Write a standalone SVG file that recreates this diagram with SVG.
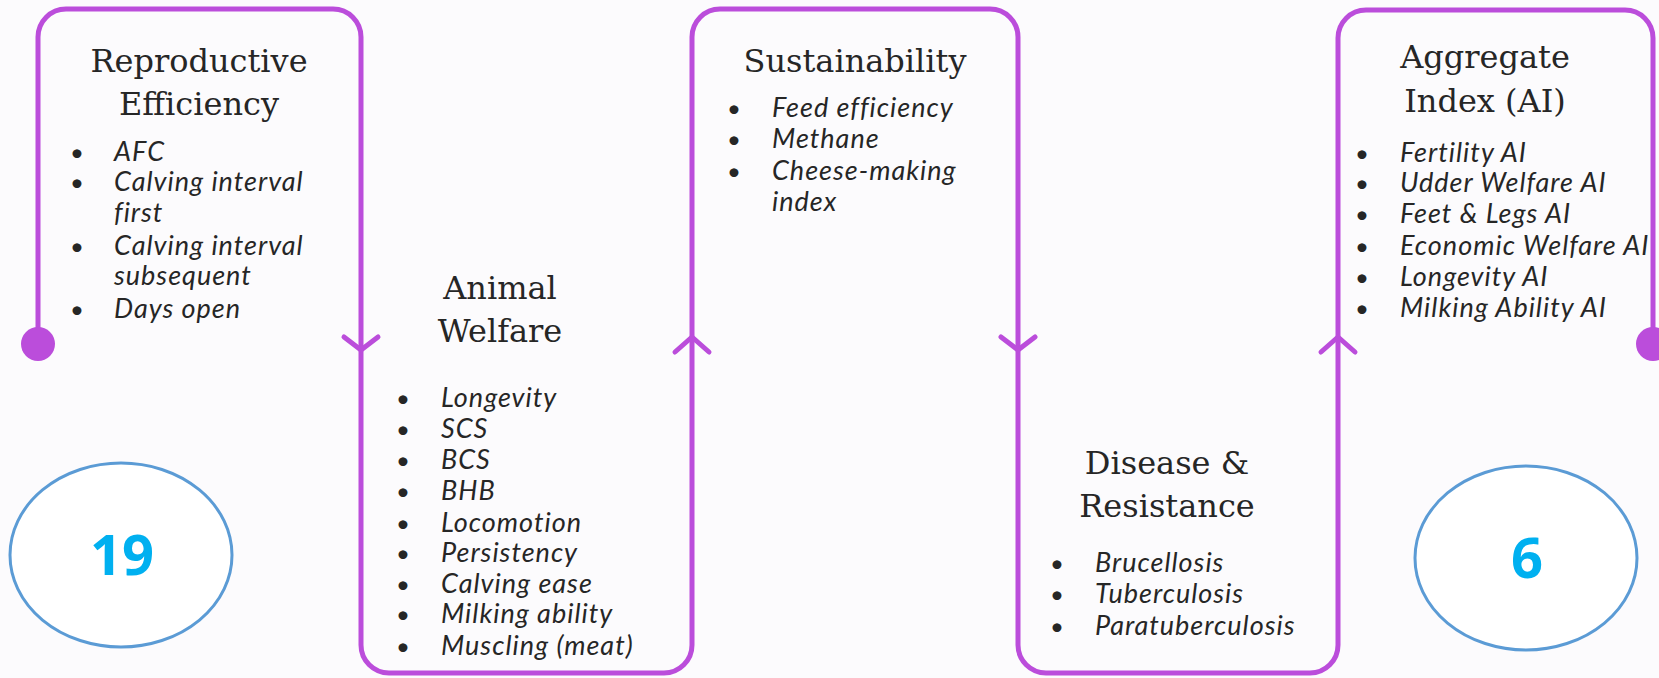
<svg xmlns="http://www.w3.org/2000/svg" width="1659" height="678" viewBox="0 0 1659 678">
  <style>
    .title { font-family: "DejaVu Serif", "Liberation Serif", serif; font-size: 32px; fill: #262626; text-anchor: middle; }
    .item { font-family: Lato, "Noto Sans", sans-serif; font-style: italic; font-size: 27px; letter-spacing: 1px; fill: #262626; }
    .dot { font-family: Lato, "Noto Sans", sans-serif; font-size: 24px; fill: #262626; text-anchor: middle; }
    .flow { fill: none; stroke: #BB4DDB; stroke-width: 5; stroke-linecap: round; stroke-linejoin: round; }
    .count { fill: #FFFFFF; stroke: #5B9BD5; stroke-width: 3; }
    .num { font-family: "Open Sans", "Noto Sans", sans-serif; font-weight: 700; font-size: 56px; fill: #00B0F0; text-anchor: middle; }
  </style>

  <rect width="1659" height="678" fill="#FCFBFD"/>

  <!-- snake line linking the categories, with direction chevrons -->
  <g id="connectors">
    <path class="flow" d="M38,344 V37 A28,28 0 0 1 66,9 H333 A28,28 0 0 1 361,37 V645 A28,28 0 0 0 389,673 H664 A28,28 0 0 0 692,645 V37 A28,28 0 0 1 720,9 H990 A28,28 0 0 1 1018,37 V645 A28,28 0 0 0 1046,673 H1310 A28,28 0 0 0 1338,645 V38 A28,28 0 0 1 1366,10 H1625 A28,28 0 0 1 1653,38 V344"/>
    <circle cx="38" cy="344" r="17" fill="#BB4DDB"/>
    <circle cx="1653" cy="344" r="17" fill="#BB4DDB"/>
    <path class="flow" d="M344,337 L361,350 L378,337"/>
    <path class="flow" d="M675,352 L692,337 L709,352"/>
    <path class="flow" d="M1001,337 L1018,350 L1035,337"/>
    <path class="flow" d="M1321,352 L1338,337 L1355,352"/>
  </g>

  <g id="reproductive-efficiency">
    <text class="title" x="199" y="72">Reproductive</text>
    <text class="title" x="199" y="115">Efficiency</text>
    <text class="dot" x="77" y="161">•</text><text class="item" x="114" y="161">AFC</text>
    <text class="dot" x="77" y="191">•</text><text class="item" x="114" y="191">Calving interval</text>
    <text class="item" x="114" y="222">first</text>
    <text class="dot" x="77" y="255">•</text><text class="item" x="114" y="255">Calving interval</text>
    <text class="item" x="114" y="285">subsequent</text>
    <text class="dot" x="77" y="318">•</text><text class="item" x="114" y="318">Days open</text>
  </g>

  <g id="count-19">
    <ellipse class="count" cx="121" cy="555" rx="111" ry="92"/>
    <text class="num" x="122" y="575">19</text>
  </g>

  <g id="animal-welfare">
    <text class="title" x="500" y="299">Animal</text>
    <text class="title" x="500" y="342">Welfare</text>
    <text class="dot" x="403" y="407">•</text><text class="item" x="441" y="407">Longevity</text>
    <text class="dot" x="403" y="438">•</text><text class="item" x="441" y="438">SCS</text>
    <text class="dot" x="403" y="469">•</text><text class="item" x="441" y="469">BCS</text>
    <text class="dot" x="403" y="500">•</text><text class="item" x="441" y="500">BHB</text>
    <text class="dot" x="403" y="532">•</text><text class="item" x="441" y="532">Locomotion</text>
    <text class="dot" x="403" y="562">•</text><text class="item" x="441" y="562">Persistency</text>
    <text class="dot" x="403" y="593">•</text><text class="item" x="441" y="593">Calving ease</text>
    <text class="dot" x="403" y="623">•</text><text class="item" x="441" y="623">Milking ability</text>
    <text class="dot" x="403" y="655">•</text><text class="item" x="441" y="655">Muscling (meat)</text>
  </g>

  <g id="sustainability">
    <text class="title" x="855" y="72">Sustainability</text>
    <text class="dot" x="734" y="117">•</text><text class="item" x="772" y="117">Feed efficiency</text>
    <text class="dot" x="734" y="148">•</text><text class="item" x="772" y="148">Methane</text>
    <text class="dot" x="734" y="180">•</text><text class="item" x="772" y="180">Cheese-making</text>
    <text class="item" x="772" y="211">index</text>
  </g>

  <g id="disease-resistance">
    <text class="title" x="1167" y="474">Disease &amp;</text>
    <text class="title" x="1167" y="517">Resistance</text>
    <text class="dot" x="1057" y="572">•</text><text class="item" x="1095" y="572">Brucellosis</text>
    <text class="dot" x="1057" y="603">•</text><text class="item" x="1095" y="603">Tuberculosis</text>
    <text class="dot" x="1057" y="635">•</text><text class="item" x="1095" y="635">Paratuberculosis</text>
  </g>

  <g id="aggregate-index">
    <text class="title" x="1485" y="68">Aggregate</text>
    <text class="title" x="1485" y="112">Index (AI)</text>
    <text class="dot" x="1362" y="162">•</text><text class="item" x="1400" y="162">Fertility AI</text>
    <text class="dot" x="1362" y="192">•</text><text class="item" x="1400" y="192">Udder Welfare AI</text>
    <text class="dot" x="1362" y="223">•</text><text class="item" x="1400" y="223">Feet &amp; Legs AI</text>
    <text class="dot" x="1362" y="255">•</text><text class="item" x="1400" y="255">Economic Welfare AI</text>
    <text class="dot" x="1362" y="286">•</text><text class="item" x="1400" y="286">Longevity AI</text>
    <text class="dot" x="1362" y="317">•</text><text class="item" x="1400" y="317">Milking Ability AI</text>
  </g>

  <g id="count-6">
    <ellipse class="count" cx="1526" cy="558" rx="111" ry="92"/>
    <text class="num" x="1527" y="578">6</text>
  </g>
</svg>
